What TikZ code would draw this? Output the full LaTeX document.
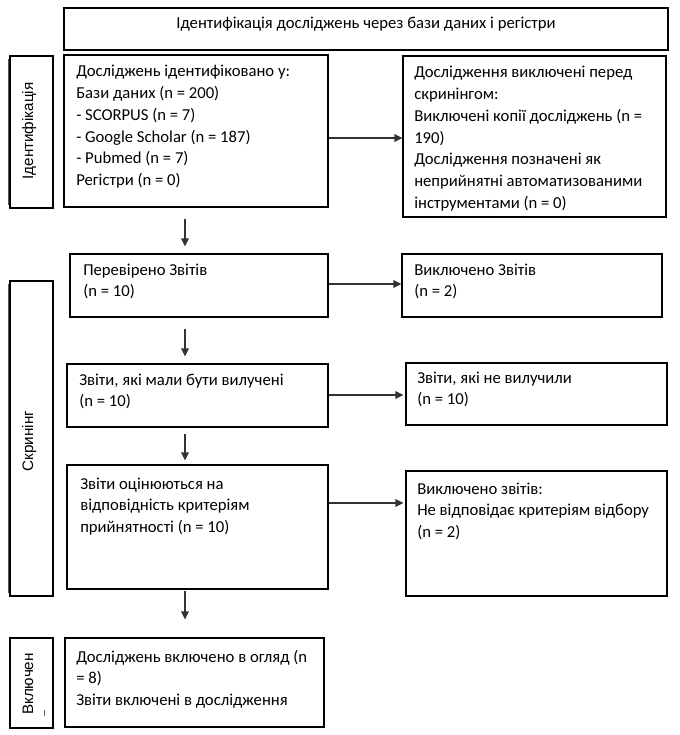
\documentclass[tikz,border=0pt]{standalone}
\usepackage{fontspec}
\setmainfont{Carlito}
\newfontfamily\sidefont{Liberation Sans}
\usetikzlibrary{arrows.meta,fit,calc}
\newcommand\tlines[1]{\begin{tabular}[t]{@{}l@{}}#1\end{tabular}}
\begin{document}
\begin{tikzpicture}[x=0.75pt,y=-0.75pt,
  box/.style={draw=black,line width=0.8pt,inner sep=0pt},
  lbl/.style={anchor=base west,inner sep=0pt,font=\fontsize{12.5}{16.3}\selectfont},
  side/.style={rotate=90,anchor=base,inner sep=0pt,font=\sidefont\fontsize{11.4}{13}\selectfont},
  shade/.style={draw=black!65,line width=1.1pt},
  arr/.style={draw=black!80,line width=1.5pt,-{Triangle[length=6pt,width=5.5pt]}}]
\useasboundingbox (0,0) rectangle (679,735);
% top
\node[box, fit={(64,8) (668,50)}] (top) {};
\node[anchor=base,inner sep=0pt,font=\fontsize{12.5}{16.3}\selectfont] (toptxt) at (366,29) {Ідентифікація досліджень через бази даних і регістри};
% side boxes
\node[box, fit={(10,56) (53,208)}] (s1) {};
\node[box, fit={(10,281) (53,596)}] (s2) {};
\node[box, fit={(10,638) (53,728)}] (s3) {};
\draw[shade] ([xshift=-0.9pt,yshift=-3pt]s1.north west) -- ([xshift=-0.9pt,yshift=3pt]s1.south west);
\draw[shade] ([xshift=-0.9pt,yshift=-3pt]s2.north west) -- ([xshift=-0.9pt,yshift=3pt]s2.south west);
\node[side] (s1t) at (33,131) {Ідентифікація};
\node[side] (s2t) at (33,441) {Скринінг};
\node[side] (s3t) at (33,684) {Включен};
\draw[black!60,line width=0.6pt] (44,710) -- (44,716);
% boxes
\node[box, fit={(64,55) (328,207)}] (b1) {};
\node[lbl] (b1t) at (76,77) {\tlines{Досліджень ідентифіковано у:\\Бази даних (n = 200)\\- SCORPUS (n = 7)\\- Google Scholar (n = 187)\\- Pubmed (n = 7)\\Регістри (n = 0)}};
\node[box, fit={(403,56) (666,217)}] (r1) {};
\node[lbl] (r1t) at (414,78) {\tlines{Дослідження виключені перед\\скринінгом:\\Виключені копії досліджень (n =\\190)\\Дослідження позначені як\\неприйнятні автоматизованими\\інструментами (n = 0)}};
\node[box, fit={(70,254) (328,317)}] (b2) {};
\node[lbl] (b2t) at (83,275) {\tlines{Перевірено Звітів\\(n = 10)}};
\node[box, fit={(402,254) (662,317)}] (r2) {};
\node[lbl] (r2t) at (414,275) {\tlines{Виключено Звітів\\(n = 2)}};
\node[box, fit={(67,364) (328,427)}] (b3) {};
\node[lbl] (b3t) at (79,385) {\tlines{Звіти, які мали бути вилучені\\(n = 10)}};
\node[box, fit={(406,363) (667,425)}] (r3) {};
\node[lbl] (r3t) at (417,383) {\tlines{Звіти, які не вилучили\\(n = 10)}};
\node[box, fit={(67,465) (328,589)}] (b4) {};
\node[lbl] (b4t) at (80,489) {\tlines{Звіти оцінюються на\\відповідність критеріям\\прийнятності (n = 10)}};
\node[box, fit={(406,471) (667,596)}] (r4) {};
\node[lbl] (r4t) at (417,494) {\tlines{Виключено звітів:\\Не відповідає критеріям відбору\\(n = 2)}};
\node[box, fit={(65,638) (324,727)}] (b5) {};
\node[lbl] (b5t) at (76,662) {\tlines{Досліджень включено в огляд (n\\= 8)\\Звіти включені в дослідження}};
% arrows
\coordinate (ax) at (185,0);
\draw[arr, shorten <=8.25pt, shorten >=5.25pt] (b1.south -| ax) -- (b2.north -| ax);
\draw[arr, shorten <=8.25pt, shorten >=5.25pt] (b2.south -| ax) -- (b3.north -| ax);
\draw[arr, shorten <=4.5pt, shorten >=3pt] (b3.south -| ax) -- (b4.north -| ax);
\draw[arr, shorten <=0.75pt, shorten >=13.5pt] (b4.south -| ax) -- (b5.north -| ax);
\coordinate (y1) at (0,138);
\coordinate (y2) at (0,284);
\coordinate (y3) at (0,395);
\coordinate (y4) at (0,503);
\draw[arr] (b1.east |- y1) -- (r1.west |- y1);
\draw[arr] (b2.east |- y2) -- (r2.west |- y2);
\draw[arr, shorten >=1.5pt] (b3.east |- y3) -- (r3.west |- y3);
\draw[arr, shorten >=1.5pt] (b4.east |- y4) -- (r4.west |- y4);
\end{tikzpicture}
\end{document}
